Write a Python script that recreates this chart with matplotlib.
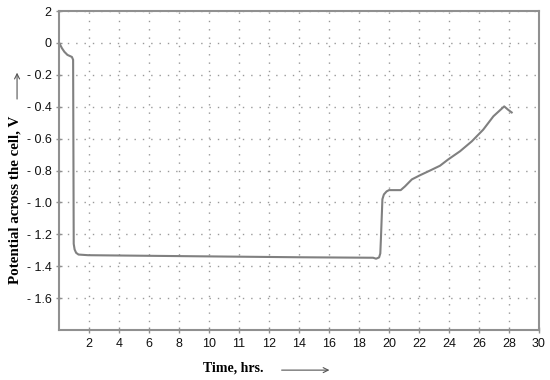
#!/usr/bin/env python3

import matplotlib.pyplot as plt
import numpy as np

plt.rc('font', family='Liberation Sans', size=9)

# x is in tick-slot units (the printed hour labels are not evenly spaced)
t_pos = [0.00, 0.05, 0.10, 0.18, 0.28, 0.43, 0.47, 0.49, 0.52, 0.57, 0.65, 0.97,
         4.70, 8.03, 10.47, 10.57, 10.67, 10.71, 10.73, 10.78, 10.83, 10.92, 11.00,
         11.39, 11.53, 11.76, 12.03, 12.37, 12.70, 12.97, 13.37, 13.76, 14.14,
         14.48, 14.84, 14.97, 15.09]
potential = [0.000, -0.016, -0.034, -0.056, -0.075, -0.088, -0.106, -1.260, -1.295,
             -1.316, -1.327, -1.331, -1.338, -1.344, -1.347, -1.353, -1.345, -1.320,
             -1.230, -0.980, -0.950, -0.931, -0.923, -0.923, -0.900, -0.856, -0.830,
             -0.800, -0.770, -0.731, -0.679, -0.617, -0.544, -0.460, -0.398, -0.419,
             -0.436]

x_ticks = np.arange(1, 17)
x_labels = ['2', '4', '6', '8', '10', '11', '12', '14', '16', '18', '20',
            '22', '24', '26', '28', '30']
y_ticks = [0.2, 0.0, -0.2, -0.4, -0.6, -0.8, -1.0, -1.2, -1.4, -1.6]
y_labels = ['2', '0', '- 0.2', '- 0.4', '- 0.6', '- 0.8', '- 1.0', '- 1.2',
            '- 1.4', '- 1.6']

fig = plt.figure(figsize=(5.5, 3.8), dpi=100)
ax = fig.add_axes([0.1073, 0.1316, 0.8727, 0.8394])

ax.plot(t_pos, potential, color='#808080', linewidth=1.5)

ax.set_xlim(0, 16)
ax.set_ylim(-1.8, 0.2)
ax.set_xticks(x_ticks)
ax.set_xticklabels(x_labels)
ax.set_yticks(y_ticks)
ax.set_yticklabels(y_labels)

ax.grid(True, color='#999999', linestyle=(0, (1, 5)), linewidth=1)
ax.set_axisbelow(True)
for s in ax.spines.values():
    s.set_color('#909090')
    s.set_linewidth(1.5)
ax.tick_params(direction='inout', length=5, color='#909090', width=1,
               labelcolor='#111111', pad=3)

fig.text(0.369, 0.032, 'Time, hrs.', family='Liberation Serif', weight='bold',
         size=10, ha='left', va='center')
fig.text(0.027, 0.475, 'Potential across the cell, V', family='Liberation Serif',
         weight='bold', size=10.8, rotation=90, ha='center', va='center')

arrow = dict(arrowstyle='->', color='#555555', lw=0.8)
ax.annotate('', xy=(0.604, 0.026), xytext=(0.507, 0.026),
            xycoords='figure fraction', arrowprops=arrow)
ax.annotate('', xy=(0.031, 0.816), xytext=(0.031, 0.732),
            xycoords='figure fraction', arrowprops=arrow)

plt.savefig('out.png', dpi=100)
